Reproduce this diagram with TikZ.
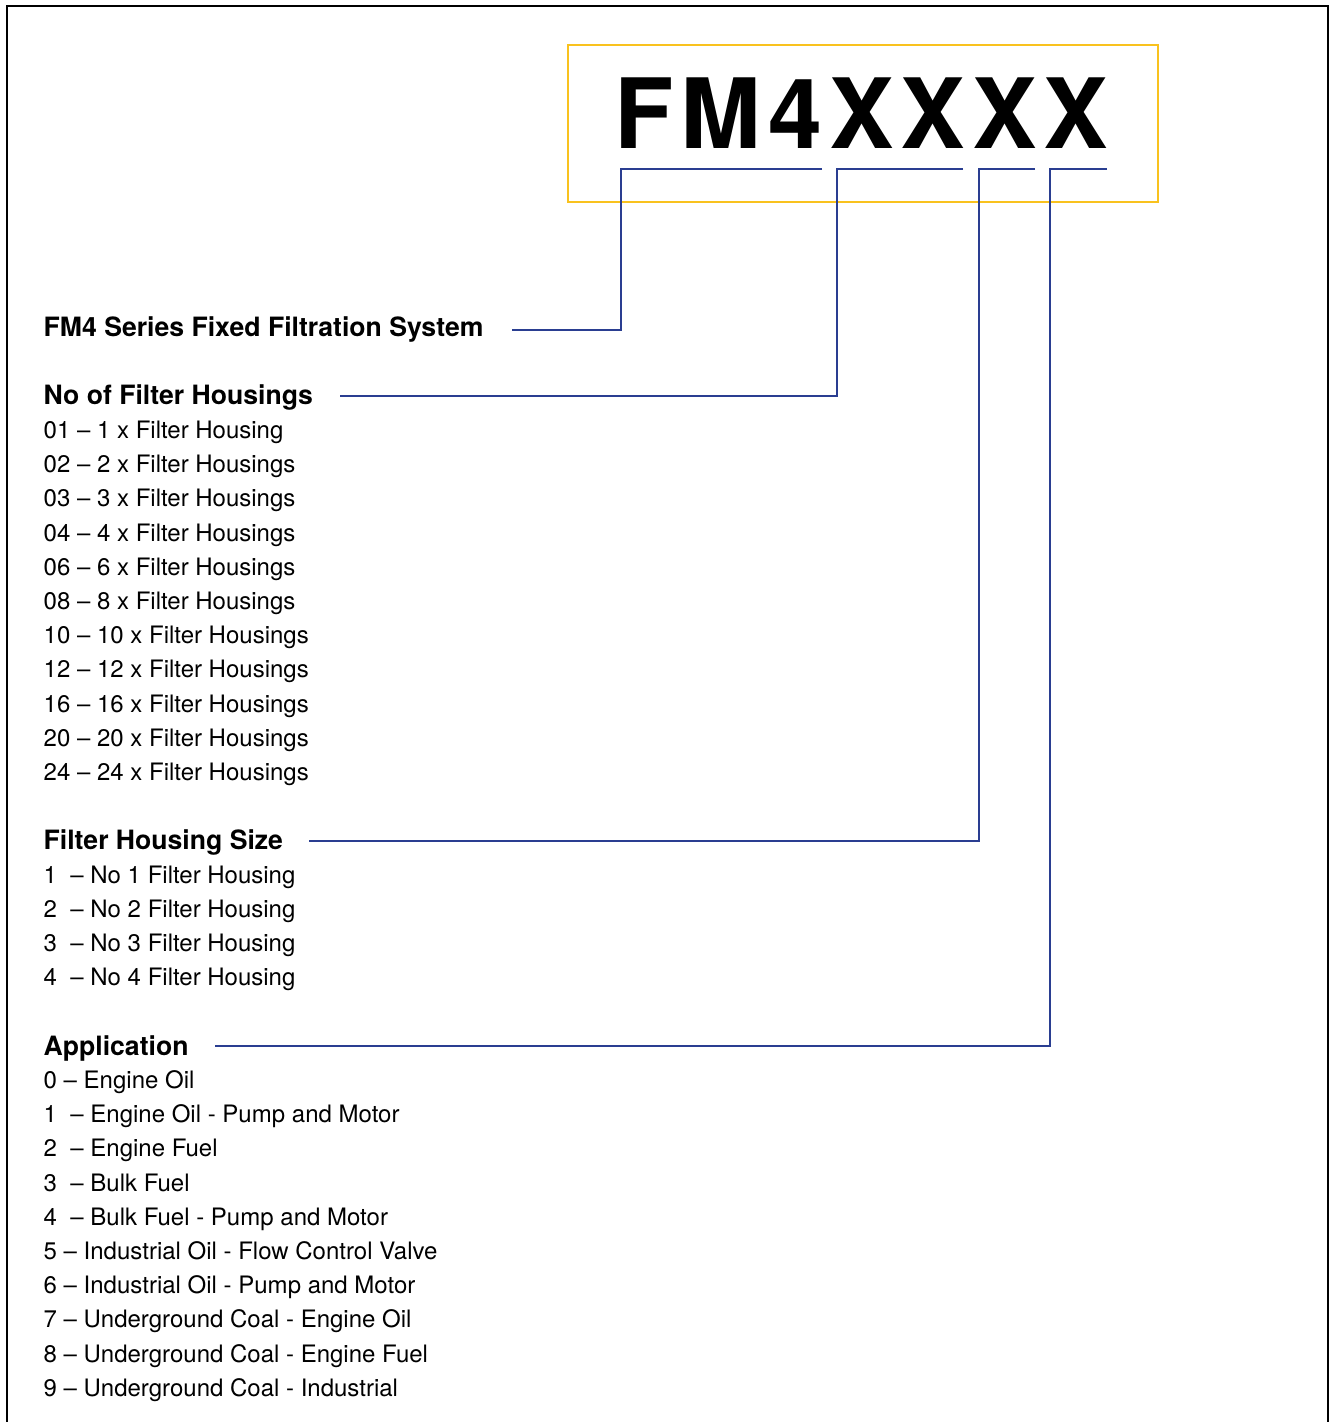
\documentclass[tikz,border=0pt]{standalone}
\usepackage{fontspec}
\setmainfont{TeX Gyre Heros}
\definecolor{codeyellow}{RGB}{249,194,30}
\definecolor{codeblue}{RGB}{42,62,145}
\begin{document}
\begin{tikzpicture}[x=1pt,y=-1pt,
  heading/.style={anchor=base west,inner sep=0pt,font=\fontsize{26.6}{30}\selectfont\bfseries},
  item/.style={anchor=base west,inner sep=0pt,font=\fontsize{24}{28}\selectfont},
  bracket/.style={draw=codeblue,line width=2.6pt}]
\useasboundingbox (0,0) rectangle (1332,1422);
\begin{scope}
\clip (0,0) rectangle (1332,1422);
\draw[line width=2.6pt,black] (7,1440) -- (7,6) -- (1328,6) -- (1328,1440);
\end{scope}
% code box
\node[draw=codeyellow,line width=2.6pt,minimum width=590pt,minimum height=157pt,inner sep=0pt] (box) at (863,123.5) {};
\node[anchor=base,inner sep=0pt,font=\fontsize{97}{100}\selectfont\bfseries\addfontfeature{LetterSpace=7}] (code) at (861.5,148) {FM4XXXX};
% headings
\node[heading] (h1) at (43.5,336) {FM4 Series Fixed Filtration System};
\node[heading] (h2) at (43.5,404) {No of Filter Housings};
\node[heading] (h3) at (43.5,849) {Filter Housing Size};
\node[heading] (h4) at (43.5,1055) {Application};
% items
\foreach \t [count=\i from 0] in {01 – 1 x Filter Housing, 02 – 2 x Filter Housings, 03 – 3 x Filter Housings, 04 – 4 x Filter Housings, 06 – 6 x Filter Housings, 08 – 8 x Filter Housings, 10 – 10 x Filter Housings, 12 – 12 x Filter Housings, 16 – 16 x Filter Housings, 20 – 20 x Filter Housings, 24 – 24 x Filter Housings}
  \node[item] (n\i) at (43.5,{438.5+34.2*\i}) {\t};
\foreach \t [count=\i from 0] in {1\ \ – No 1 Filter Housing, 2\ \ – No 2 Filter Housing, 3\ \ – No 3 Filter Housing, 4\ \ – No 4 Filter Housing}
  \node[item] (s\i) at (43.5,{883.5+34.1*\i}) {\t};
\foreach \t [count=\i from 0] in {0 – Engine Oil, 1\ \ – Engine Oil - Pump and Motor, 2\ \ – Engine Fuel, 3\ \ – Bulk Fuel, 4\ \ – Bulk Fuel - Pump and Motor, 5 – Industrial Oil - Flow Control Valve, 6 – Industrial Oil - Pump and Motor, 7 – Underground Coal - Engine Oil, 8 – Underground Coal - Engine Fuel, 9 – Underground Coal - Industrial}
  \node[item] (a\i) at (43.5,{1088.5+34.2*\i}) {\t};
% bracket coordinates
\coordinate (t1a) at (822,169); \coordinate (t1b) at (621,169); \coordinate (l1) at (512,330);
\coordinate (t2a) at (963,169); \coordinate (t2b) at (837,169); \coordinate (l2) at (340,396);
\coordinate (t3a) at (1035,169); \coordinate (t3b) at (979,169); \coordinate (l3) at (309,841);
\coordinate (t4a) at (1107,169); \coordinate (t4b) at (1050,169); \coordinate (l4) at (215,1046);
\draw[bracket] (t1a) -- (t1b) |- (l1);
\draw[bracket] (t2a) -- (t2b) |- (l2);
\draw[bracket] (t3a) -- (t3b) |- (l3);
\draw[bracket] (t4a) -- (t4b) |- (l4);
\end{tikzpicture}
\end{document}
